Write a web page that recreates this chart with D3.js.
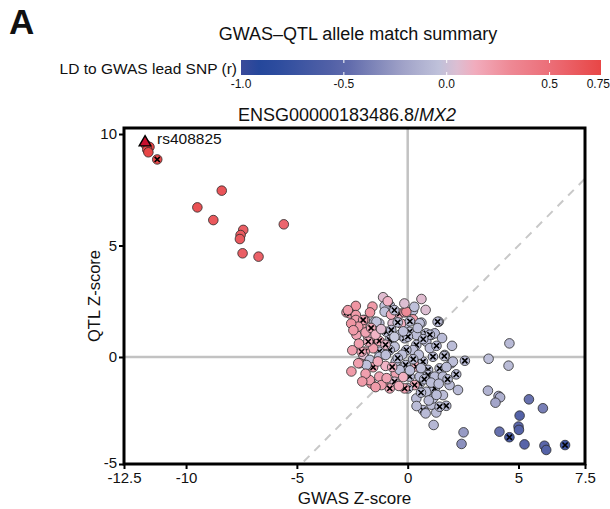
<!DOCTYPE html>
<html>
<head>
<meta charset="utf-8">
<script src="https://cdn.jsdelivr.net/npm/d3@7"></script>
<style>
	body { margin: 0; background: #fff; }
	svg text { font-family: "Liberation Sans", Arial, Helvetica, sans-serif; fill: #111; }
</style>
</head>
<body>
<svg id="chart" width="610" height="509"></svg>
<script>

// --------- data -----------

var xTickValues = [-12.8, -10, -5, 0, 5, 8.0];
var xTickLabels = ["-12.5", "-10", "-5", "0", "5", "7.5"];
var yTickValues = [-4.8, 0, 5, 10];
var yTickLabels = ["-5", "0", "5", "10"];

var ldTicks = [-1.0, -0.5, 0.0, 0.5, 0.75];
var ldTickLabels = ["-1.0", "-0.5", "0.0", "0.5", "0.75"];

// lead SNP: gwas z, qtl z
var leadSnp = { name: "rs408825", gwas: -11.85, qtl: 9.62, ld: 1 };

// [gwas z, qtl z, LD r, allele mismatch (x)]
var snps = [
	[-11.8, 9.5, 0.72, 0], [-11.65, 9.42, 0.75, 0], [-11.75, 9.3, 0.74, 0], [-11.7, 9.18, 0.75, 0],
	[-11.3, 8.86, 0.72, 1], [-8.39, 7.46, 0.66, 0], [-9.49, 6.71, 0.68, 0], [-8.77, 6.14, 0.64, 0],
	[-7.42, 5.7, 0.6, 0], [-7.54, 5.47, 0.62, 0], [-7.57, 5.29, 0.63, 0], [-5.59, 5.95, 0.55, 0],
	[-7.45, 4.65, 0.6, 0], [-6.73, 4.5, 0.58, 0],

	[4.59, 0.61, -0.08, 0], [3.65, -0.08, -0.05, 0], [4.55, -0.39, -0.07, 0], [2.58, -0.17, -0.08, 1],
	[3.62, -1.51, -0.12, 0], [4.1, -1.75, -0.15, 0], [4.17, -1.81, -0.14, 0], [3.96, -2.05, -0.2, 0],
	[5.47, -1.9, -0.45, 0], [6.1, -2.3, -0.38, 0], [5.05, -2.63, -0.55, 0], [5.0, -3.12, -0.5, 0],
	[5.02, -3.27, -0.55, 0], [4.14, -3.35, -0.45, 0], [4.59, -3.6, -0.62, 1], [5.27, -3.92, -0.52, 0],
	[6.17, -3.98, -0.5, 0], [6.25, -4.17, -0.55, 0], [7.1, -3.95, -0.7, 1], [2.52, -3.38, -0.25, 0],
	[2.43, -3.9, -0.3, 0], [1.17, -3.05, -0.1, 0],

	[-1.11, 2.68, 0.06, 0], [0.62, 2.6, 0.06, 0], [-2.34, 2.29, 0.25, 0], [-1.59, 2.26, 0.22, 0],
	[-0.81, 2.32, -0.05, 1], [-1.04, 2.29, -0.03, 0], [-1.04, 2.03, -0.04, 0], [0.24, 2.08, -0.06, 0],
	[0.81, 2.11, 0.05, 0], [-0.5, 1.91, 0.0, 1], [-0.36, 1.95, 0.1, 1], [-0.14, 2.0, 0.2, 0],
	[0.24, 1.69, 0.22, 0], [-2.76, 2.0, 0.2, 1], [-2.61, 1.95, 0.2, 1], [-2.34, 1.88, 0.22, 0],
	[-2.34, 1.66, 0.2, 0], [-1.94, 1.66, 0.15, 1], [-2.09, 1.44, 0.2, 0], [-1.5, 1.58, -0.04, 0],
	[-1.28, 1.51, -0.05, 0], [-0.68, 1.51, 0.05, 0], [-0.14, 1.44, -0.06, 0], [0.62, 1.54, -0.05, 0],
	[1.4, 1.58, -0.08, 1], [-0.96, 1.13, -0.04, 1], [-0.74, 1.21, -0.05, 1], [-2.31, 0.99, 0.18, 0],
	[-1.79, 0.91, 0.08, 0], [-1.56, 0.69, 0.2, 1], [-1.28, 0.72, 0.15, 1], [-0.81, 0.76, -0.04, 1],
	[-0.36, 0.99, -0.05, 0], [-0.14, 0.84, -0.06, 1], [0.09, 1.13, -0.03, 1], [0.39, 0.99, -0.06, 0],
	[0.84, 1.06, -0.05, 1], [1.07, 0.99, -0.06, 1], [1.22, 1.06, -0.07, 0], [0.84, 0.69, -0.06, 0],
	[0.39, 0.54, -0.04, 1], [0.24, 0.31, -0.05, 0], [-0.06, 0.31, -0.04, 1], [-0.59, 0.46, -0.03, 0],
	[-0.81, 0.31, -0.05, 1], [-1.28, 0.24, -0.06, 1], [-1.56, 0.39, 0.2, 0], [-1.94, 0.24, 0.18, 1],
	[-2.01, 0.09, 0.06, 0], [-2.16, -0.28, 0.22, 0], [-2.54, -0.65, 0.22, 0], [-1.71, -0.13, -0.04, 0],
	[-1.56, -0.46, 0.18, 1], [-1.28, 0.01, -0.05, 0], [-0.99, 0.09, -0.05, 0], [-0.54, -0.21, -0.06, 0],
	[-0.09, -0.36, -0.05, 1], [0.39, -0.43, 0.15, 1], [0.69, -0.21, -0.04, 1], [1.14, 0.01, -0.06, 1],
	[1.67, 0.09, -0.07, 1], [1.97, -0.28, -0.06, 0], [1.44, -0.51, -0.06, 1], [0.92, -0.58, -0.05, 1],
	[0.92, -0.81, -0.06, 1], [1.22, -0.88, -0.07, 0], [1.59, -0.88, -0.07, 0], [2.19, -0.78, -0.08, 1],
	[1.89, -1.26, -0.07, 0], [2.27, -1.48, -0.08, 0], [1.59, -1.71, -0.07, 0], [1.14, -1.41, -0.06, 1],
	[0.84, -1.56, -0.06, 0], [0.39, -1.86, -0.07, 0], [0.54, -1.19, -0.05, 1], [0.31, -1.26, 0.15, 1],
	[0.01, -1.41, -0.04, 1], [-0.14, -1.41, 0.18, 1], [0.09, -0.88, -0.05, 1], [-0.54, -0.73, 0.18, 0],
	[-0.59, -1.11, 0.05, 1], [-0.81, -1.41, 0.15, 1], [-1.11, -1.19, 0.2, 0], [-1.28, -0.88, 0.18, 0],
	[-1.64, -1.19, 0.22, 0], [-1.71, -1.04, 0.2, 0], [0.69, -2.38, -0.07, 1], [0.81, -2.53, -0.08, 0],
	[1.37, -2.29, -0.07, 1], [1.74, -2.19, -0.08, 1], [1.29, -2.49, -0.07, 0], [1.07, -2.14, -0.06, 0],
	[1.14, -1.86, -0.06, 0], [0.01, 0.91, -0.05, 1], [-0.36, -0.58, -0.05, 0], [-2.01, 1.66, 0.18, 1],
	[-2.23, 1.36, 0.22, 0], [-1.41, 1.58, -0.04, 0], [-0.06, 2.03, 0.3, 0], [0.54, 1.51, -0.05, 0],
	[1.35, 1.58, -0.06, 1], [1.0, 1.0, -0.06, 1], [-1.78, 0.69, 0.12, 1], [-2.08, 0.24, 0.15, 1],
	[-1.86, -0.36, -0.04, 0], [-2.23, -0.28, 0.2, 0], [-1.18, -1.26, 0.2, 0], [0.54, -0.88, -0.05, 0],
	[1.22, -1.41, -0.07, 1], [1.44, -2.23, -0.07, 1], [1.65, 0.04, -0.06, 1], [2.04, -0.21, -0.06, 0],
	[-0.3, 1.5, 0.12, 0], [-0.6, 0.9, 0.0, 0], [0.5, 0.1, -0.05, 0], [-1.0, -0.4, 0.1, 0],
	[-0.2, -0.9, 0.12, 0], [-2.55, 1.5, 0.25, 0], [-2.7, 2.1, 0.22, 0],

	[-2.45, 1.2, 0.22, 0], [-2.2, 0.6, 0.2, 0], [-1.9, 1.1, 0.18, 0], [-1.65, 1.3, 0.15, 1],
	[-1.45, 1.0, 0.1, 0], [-1.2, 1.25, 0.06, 0], [-1.0, 0.55, 0.08, 1], [-1.35, -0.2, 0.15, 0],
	[-1.9, -0.75, 0.2, 0], [-1.45, -1.35, 0.22, 0], [-0.95, -0.95, 0.18, 0], [-0.7, -0.45, 0.1, 1],
	[-0.4, -1.3, 0.15, 0], [-0.75, 1.9, 0.15, 0], [-0.9, 2.5, 0.1, 0], [-1.7, 2.0, 0.25, 0],
	[-2.5, 0.3, 0.2, 0], [-2.05, -1.1, 0.22, 0],
	[-0.2, 1.15, -0.05, 0], [0.1, 1.6, -0.04, 1], [0.45, 1.3, -0.05, 0], [0.7, 0.8, -0.06, 1],
	[1.0, 0.4, -0.06, 0], [1.3, 0.5, -0.07, 1], [0.6, -0.5, -0.05, 0], [0.25, -0.1, -0.05, 1],
	[-0.25, 0.1, -0.04, 0], [-0.45, -0.05, -0.05, 1], [0.1, -0.6, -0.05, 0], [0.75, -1.0, -0.06, 1],
	[1.05, -1.15, -0.06, 0], [1.4, -1.2, -0.07, 0], [1.75, -0.45, -0.07, 0], [1.8, -1.0, -0.07, 1],
	[0.6, -1.6, -0.06, 1], [0.95, -1.95, -0.07, 0], [1.3, -1.7, -0.07, 0], [0.4, -2.2, -0.07, 0],
	[2.0, 0.5, -0.07, 0], [1.55, 0.85, -0.07, 0], [-0.45, 1.55, -0.03, 1], [-0.15, 2.4, 0.05, 0],
	[0.3, 2.25, -0.04, 0], [-0.6, 2.1, -0.03, 1]
];

// --------- chart -----------

var svg = d3.select("#chart");

var plot = { left: 124, right: 585, top: 128, bottom: 464 };

var x = d3.scaleLinear().domain([-12.8, 8.0]).range([plot.left, plot.right]);
var y = d3.scaleLinear().domain([-4.8, 10.27]).range([plot.bottom, plot.top]);

var ldColor = d3.scaleLinear()
	.domain([-1, -0.9, -0.5, -0.2, 0, 0.1, 0.3, 0.5, 0.75, 1])
	.range(["#3b4a9a", "#22469b", "#5b66a9", "#a3a5c9", "#c6c8de", "#f2b4c6", "#ee8a96", "#ec6e78", "#e84646", "#c8102e"])
	.clamp(true);

// panel letter + title
svg.append("text")
	.attr("x", 9)
	.attr("y", 34)
	.style("font-size", "35px")
	.style("font-weight", "bold")
	.text("A");

svg.append("text")
	.attr("x", 358)
	.attr("y", 40)
	.attr("text-anchor", "middle")
	.style("font-size", "18px")
	.text("GWAS\u2013QTL allele match summary");

// --------- colour bar -----------

var bar = { x0: 241, x1: 601, y: 60, h: 15 };
var barScale = d3.scaleLinear().domain([-1, 0.75]).range([bar.x0, bar.x1]);

var grad = svg.append("defs").append("linearGradient")
	.attr("id", "ldGrad")
	.attr("x1", "0%").attr("x2", "100%");

d3.range(0, 1.0001, 0.05).forEach(function(t) {
	grad.append("stop")
		.attr("offset", (t * 100) + "%")
		.attr("stop-color", ldColor(-1 + t * 1.75));
});

svg.append("rect")
	.attr("x", bar.x0)
	.attr("y", bar.y)
	.attr("width", bar.x1 - bar.x0)
	.attr("height", bar.h)
	.attr("fill", "url(#ldGrad)");

// little white notches inside the bar
ldTicks.slice(1, 4).forEach(function(v) {
	[bar.y, bar.y + bar.h - 3].forEach(function(yy) {
		svg.append("line")
			.attr("x1", barScale(v)).attr("x2", barScale(v))
			.attr("y1", yy).attr("y2", yy + 3)
			.attr("stroke", "#fff")
			.attr("stroke-width", 1);
	});
});

svg.selectAll(".ldTick")
	.data(ldTicks)
	.enter()
	.append("text")
	.attr("class", "ldTick")
	.attr("x", function(d) { return barScale(d); })
	.attr("y", 88)
	.attr("text-anchor", function(d, i) { return i === ldTicks.length - 1 ? "end" : "middle"; })
	.attr("dx", function(d, i) { return i === ldTicks.length - 1 ? 9 : 0; })
	.style("font-size", "12px")
	.text(function(d, i) { return ldTickLabels[i]; });

svg.append("text")
	.attr("x", 237)
	.attr("y", 74)
	.attr("text-anchor", "end")
	.style("font-size", "15.5px")
	.text("LD to GWAS lead SNP (r)");

// --------- gene subtitle -----------

var sub = svg.append("text")
	.attr("x", 347)
	.attr("y", 121)
	.attr("text-anchor", "middle")
	.style("font-size", "18px");
sub.append("tspan").text("ENSG00000183486.8/");
sub.append("tspan").style("font-style", "italic").text("MX2");

// --------- reference lines -----------

svg.append("clipPath").attr("id", "plotClip")
	.append("rect")
	.attr("x", plot.left).attr("y", plot.top)
	.attr("width", plot.right - plot.left).attr("height", plot.bottom - plot.top);

var inner = svg.append("g").attr("clip-path", "url(#plotClip)");

inner.append("line")
	.attr("x1", x(-12.8)).attr("x2", x(8))
	.attr("y1", y(-12.8)).attr("y2", y(8))
	.attr("stroke", "#c8c8c8")
	.attr("stroke-width", 2)
	.attr("stroke-dasharray", "8,7");

inner.append("line")
	.attr("x1", x(0)).attr("x2", x(0))
	.attr("y1", plot.top).attr("y2", plot.bottom)
	.attr("stroke", "#c2c2c2")
	.attr("stroke-width", 2.5);

inner.append("line")
	.attr("x1", plot.left).attr("x2", plot.right)
	.attr("y1", y(0)).attr("y2", y(0))
	.attr("stroke", "#c2c2c2")
	.attr("stroke-width", 2.5);

// --------- points -----------

var pts = inner.selectAll(".snp")
	.data(snps)
	.enter()
	.append("g")
	.attr("class", "snp")
	.attr("transform", function(d) { return "translate(" + x(d[0]) + "," + y(d[1]) + ")"; });

pts.append("circle")
	.attr("r", 4.8)
	.attr("fill", function(d) { return ldColor(d[2]); })
	.attr("stroke", "#2a2a2a")
	.attr("stroke-width", 0.8);

pts.filter(function(d) { return d[3] === 1; })
	.append("path")
	.attr("d", "M-2.6,-2.6L2.6,2.6M-2.6,2.6L2.6,-2.6")
	.attr("stroke", "#000")
	.attr("stroke-width", 1.6);

inner.append("path")
	.attr("d", d3.symbol().type(d3.symbolTriangle).size(60)())
	.attr("transform", "translate(" + x(leadSnp.gwas) + "," + y(leadSnp.qtl) + ")")
	.attr("fill", ldColor(leadSnp.ld))
	.attr("stroke", "#000")
	.attr("stroke-width", 1.4);

svg.append("text")
	.attr("x", x(leadSnp.gwas) + 12)
	.attr("y", y(leadSnp.qtl) + 2)
	.style("font-size", "15.5px")
	.text(leadSnp.name);

// --------- frame + axes -----------

svg.append("rect")
	.attr("x", plot.left)
	.attr("y", plot.top)
	.attr("width", plot.right - plot.left)
	.attr("height", plot.bottom - plot.top)
	.attr("fill", "none")
	.attr("stroke", "#000")
	.attr("stroke-width", 3);

var xAxis = svg.append("g")
	.attr("transform", "translate(0," + plot.bottom + ")")
	.call(d3.axisBottom(x)
		.tickValues(xTickValues)
		.tickFormat(function(d, i) { return xTickLabels[i]; })
		.tickSize(5)
		.tickPadding(3));

var yAxis = svg.append("g")
	.attr("transform", "translate(" + plot.left + ",0)")
	.call(d3.axisLeft(y)
		.tickValues(yTickValues)
		.tickFormat(function(d, i) { return yTickLabels[i]; })
		.tickSize(5)
		.tickPadding(2));

[xAxis, yAxis].forEach(function(ax) {
	ax.select(".domain").remove();
	ax.selectAll(".tick line").attr("stroke", "#000").attr("stroke-width", 2);
	ax.selectAll(".tick text")
		.style("font-size", "15px")
		.style("font-family", "'Liberation Sans', Arial, sans-serif")
		.attr("fill", "#111");
});

// nudge the lowest y label up a touch so it clears "-12.5"
yAxis.selectAll(".tick text").filter(function(d) { return d === yTickValues[0]; })
	.attr("dy", "0.2em");

svg.append("text")
	.attr("x", (plot.left + plot.right) / 2)
	.attr("y", 504)
	.attr("text-anchor", "middle")
	.style("font-size", "17px")
	.text("GWAS Z-score");

svg.append("text")
	.attr("transform", "translate(100," + ((plot.top + plot.bottom) / 2) + ") rotate(-90)")
	.attr("text-anchor", "middle")
	.style("font-size", "16.5px")
	.text("QTL Z-score");

</script>
</body>
</html>
